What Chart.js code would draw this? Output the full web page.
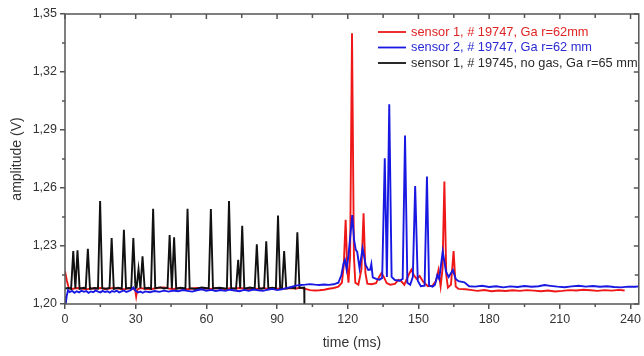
<!DOCTYPE html>
<html>
<head>
<meta charset="utf-8">
<script src="https://cdn.jsdelivr.net/npm/chart.js@4.4.1/dist/chart.umd.min.js"></script>
<style>
  html, body { margin: 0; padding: 0; background: #fff; }
  #wrap { width: 644px; height: 356px; position: relative; }
</style>
</head>
<body>
<div id="wrap"><canvas id="c"></canvas></div>
<script>
// sensor 1, # 19747 (red)
const redT = [0, 0.8, 1.6, 3, 5, 7, 9, 11, 13, 15, 17, 19, 21, 23, 25, 27, 29, 29.8, 30.2, 30.7, 32, 34, 36, 38, 40, 42, 44, 46, 48, 50, 52, 54, 56, 58, 60, 62, 64, 66, 68, 70, 72, 74, 76, 78, 80, 82, 84, 86, 88, 90, 92, 94, 96, 98, 100,
  102, 104, 106, 108, 110, 112, 114, 116, 117.5, 118.3, 119.1, 119.8, 120.3, 121.0, 121.8, 122.6, 123.2, 124.5, 125.8, 126.7, 127.5, 128.3,
  130, 132, 133.3, 134.3, 135.3, 136.5, 138, 140, 141.5, 142.5, 144, 145.8, 147, 148, 149.2, 150.5, 152, 154, 156, 157.5, 158.5, 159.4,
  160.2, 161.0, 161.8, 162.5, 163.8, 164.9, 165.8, 167, 170, 172, 175, 178, 181, 184, 187, 190, 193, 196, 199, 202, 205, 208, 211, 214,
  217, 220, 223, 226, 229, 232, 235, 237.5];
const redV = [1.2170, 1.2120, 1.2082, 1.2078, 1.2083, 1.2080, 1.2076, 1.2081, 1.2079, 1.2083, 1.2078, 1.2080, 1.2084, 1.2079, 1.2076, 1.2081, 1.2079, 1.2070, 1.2038, 1.2075, 1.2082, 1.2079, 1.2076, 1.2080, 1.2084, 1.2086, 1.2080, 1.2078, 1.2082, 1.2079, 1.2076, 1.2080, 1.2083, 1.2079, 1.2081, 1.2078, 1.2083, 1.2080, 1.2077, 1.2082, 1.2079, 1.2083, 1.2080, 1.2076, 1.2081, 1.2078, 1.2082, 1.2079, 1.2083, 1.2080, 1.2078, 1.2081, 1.2083, 1.2080, 1.2084,
  1.2078, 1.2072, 1.2070, 1.2071, 1.2074, 1.2079, 1.2083, 1.2090, 1.2110, 1.2200, 1.2435, 1.2180, 1.2110, 1.2250, 1.3400, 1.2250, 1.2110, 1.2100, 1.2180, 1.2469, 1.2160, 1.2105,
  1.2102, 1.2108, 1.2140, 1.2160, 1.2140, 1.2108, 1.2100, 1.2104, 1.2125, 1.2120, 1.2100, 1.2150, 1.2178, 1.2150, 1.2130, 1.2145, 1.2115, 1.2092, 1.2095, 1.2120, 1.2176, 1.2092,
  1.2180, 1.2633, 1.2150, 1.2085, 1.2100, 1.2274, 1.2090, 1.2078, 1.2076, 1.2073, 1.2068, 1.2072, 1.2066, 1.2070, 1.2067, 1.2071, 1.2068, 1.2072, 1.2069, 1.2066, 1.2070, 1.2065, 1.2068, 1.2072,
  1.2070, 1.2074, 1.2071, 1.2068, 1.2072, 1.2069, 1.2073, 1.2070];

// sensor 2, # 19747 (blue)
const blueT = [0, 0.3, 0.7, 1.3, 2, 3, 4, 5, 6, 7, 8, 9, 10, 11, 12, 13, 14, 15, 16, 17, 18, 19, 20, 21, 22, 23, 24, 25, 26, 27, 28, 29, 30, 31, 32, 33, 34,
  36, 38, 40, 42, 44, 46, 48, 50, 52, 54, 56, 58, 60, 62, 64, 66, 68, 70, 72, 74, 76, 78, 80, 82, 84, 86, 88, 90, 92, 94, 96, 98, 100, 102, 104, 106, 108, 110, 112, 114,
  116, 117.3, 118.2, 118.8, 119.5, 120.3, 121.9, 122.7, 123.4, 124.0, 125.0, 126.3, 127.6, 128.7, 129.5, 130.0, 130.6, 132, 133.5, 134.6, 135.7, 136.6, 137.6, 138.6,
  140, 142, 143.3, 144.3, 145.3, 146.5, 147.6, 148.6, 149.7, 151, 152.6, 153.6, 154.5, 156, 157, 158, 158.8, 160.3, 161.7, 162.8, 164.6, 165.8, 167, 168, 169.5, 171.5,
  174, 177, 180, 183, 186, 189, 192, 195, 198, 201, 203.5, 206, 209, 212, 215, 218, 221, 224, 227, 230, 233, 236, 239, 242, 243.5];
const blueV = [1.2040, 1.2000, 1.2040, 1.2072, 1.2062, 1.2068, 1.2058, 1.2066, 1.2060, 1.2069, 1.2063, 1.2067, 1.2058, 1.2065, 1.2061, 1.2070, 1.2064, 1.2060, 1.2068, 1.2062, 1.2066, 1.2059, 1.2067, 1.2063, 1.2069, 1.2060, 1.2065, 1.2070, 1.2062, 1.2066, 1.2072, 1.2085, 1.2068, 1.2060, 1.2064, 1.2058, 1.2065,
  1.2061, 1.2067, 1.2063, 1.2069, 1.2064, 1.2070, 1.2066, 1.2072, 1.2068, 1.2064, 1.2071, 1.2076, 1.2069, 1.2073, 1.2067, 1.2072, 1.2068, 1.2074, 1.2070, 1.2066, 1.2073, 1.2069, 1.2075, 1.2071, 1.2068, 1.2074, 1.2078, 1.2072, 1.2076, 1.2082, 1.2088, 1.2095, 1.2098, 1.2100, 1.2103, 1.2100, 1.2098, 1.2101, 1.2099, 1.2102,
  1.2110, 1.2150, 1.2210, 1.2228, 1.2180, 1.2250, 1.2460, 1.2330, 1.2280, 1.2270, 1.2185, 1.2288, 1.2202, 1.2176, 1.2178, 1.2207, 1.2138, 1.2130, 1.2126, 1.2135, 1.2754, 1.2140, 1.3033, 1.2140,
  1.2124, 1.2120, 1.2130, 1.2871, 1.2110, 1.2100, 1.2140, 1.2610, 1.2120, 1.2092, 1.2095, 1.2659, 1.2095, 1.2090, 1.2100, 1.2150, 1.2130, 1.2271, 1.2167, 1.2140, 1.2176, 1.2130, 1.2118, 1.2116, 1.2112, 1.2092,
  1.2090, 1.2094, 1.2088, 1.2092, 1.2086, 1.2091, 1.2088, 1.2093, 1.2089, 1.2092, 1.2098, 1.2094, 1.2090, 1.2087, 1.2091, 1.2094, 1.2090, 1.2093, 1.2089, 1.2092, 1.2088, 1.2086, 1.2090, 1.2089, 1.2091];

// sensor 1, # 19745, no gas (black)
const blackT = [0, 1.5, 2.6, 3.5, 4.4, 5.3, 6.2, 8.0, 8.8, 9.7, 10.6, 12.5, 14.0, 14.9, 15.8, 17.5, 18.9, 19.8, 20.7, 22.5, 24.1, 25.0, 25.9, 27.2, 28.1, 29.0, 29.9, 30.4,
  31.2, 32.0, 32.9, 33.8, 35.5, 36.5, 37.4, 38.3, 40.5, 42.0, 43.5, 44.4, 45.35, 46.3, 47.2, 49.0, 51.1, 52.0, 52.9, 55.5, 58.0, 61.0, 61.9, 62.8, 65.5, 68.7, 69.6, 70.5,
  72.6, 73.5, 74.35, 75.2, 76.1, 78.5, 80.5, 81.4, 82.3, 83.5, 84.5, 85.4, 86.3, 88.0, 89.5, 90.4, 91.3, 92.1, 93.0, 93.9, 96.0, 97.7, 98.6, 99.5, 101.5, 101.6];
const blackV = [1.2080, 1.2083, 1.2078, 1.2274, 1.2080, 1.2278, 1.2079, 1.2084, 1.2081, 1.2286, 1.2078, 1.2083, 1.2080, 1.2533, 1.2082, 1.2079, 1.2083, 1.2341, 1.2078, 1.2084, 1.2080, 1.2384, 1.2081, 1.2083, 1.2079, 1.2341, 1.2082, 1.2086,
  1.2180, 1.2082, 1.2247, 1.2080, 1.2084, 1.2079, 1.2493, 1.2082, 1.2086, 1.2080, 1.2083, 1.2357, 1.2081, 1.2345, 1.2079, 1.2084, 1.2080, 1.2493, 1.2082, 1.2078, 1.2085, 1.2081, 1.2491, 1.2080, 1.2084, 1.2079, 1.2533, 1.2082,
  1.2080, 1.2228, 1.2081, 1.2405, 1.2079, 1.2085, 1.2080, 1.2309, 1.2082, 1.2079, 1.2083, 1.2324, 1.2080, 1.2084, 1.2081, 1.2457, 1.2079, 1.2082, 1.2274, 1.2080, 1.2085, 1.2081, 1.2371, 1.2083, 1.2085, 1.1995];

const seriesNames = ['sensor 1, # 19747, Ga r=62mm', 'sensor 2, # 19747, Ga r=62 mm', 'sensor 1, # 19745, no gas, Ga r=65 mm'];
const lineColors = ['#ee1818', '#1818e2', '#111111'];
const textColors = ['#e02424', '#2a2ad4', '#2a2a2a'];

const xTickValues = [0, 30, 60, 90, 120, 150, 180, 210, 240];
const xMinorValues = [15, 45, 75, 105, 135, 165, 195, 225];
const yTickValues = [1.20, 1.23, 1.26, 1.29, 1.32, 1.35];
const yMinorValues = [1.215, 1.245, 1.275, 1.305, 1.335];

const axisColor = '#555';
const font = "'Liberation Sans', Arial, sans-serif";

const pts = (T, V) => T.map((t, i) => ({ x: t, y: V[i] }));

// frame, mirrored inner ticks and the legend
const frame = {
  id: 'frame',
  afterDraw(chart) {
    const { ctx, chartArea: a, scales: { x, y } } = chart;
    ctx.save();
    ctx.strokeStyle = axisColor;
    ctx.lineWidth = 1.5;
    ctx.strokeRect(a.left, a.top, a.right - a.left, a.bottom - a.top);
    ctx.beginPath();
    xTickValues.forEach(v => {
      const px = x.getPixelForValue(v);
      ctx.moveTo(px, a.top); ctx.lineTo(px, a.top + 5);
    });
    xMinorValues.forEach(v => {
      const px = x.getPixelForValue(v);
      ctx.moveTo(px, a.bottom); ctx.lineTo(px, a.bottom + 3);
      ctx.moveTo(px, a.top); ctx.lineTo(px, a.top + 4);
    });
    yTickValues.forEach(v => {
      const py = y.getPixelForValue(v);
      ctx.moveTo(a.right, py); ctx.lineTo(a.right - 5, py);
    });
    yMinorValues.forEach(v => {
      const py = y.getPixelForValue(v);
      ctx.moveTo(a.left, py); ctx.lineTo(a.left - 3, py);
      ctx.moveTo(a.right, py); ctx.lineTo(a.right - 4, py);
    });
    ctx.stroke();

    ctx.font = '12.8px ' + font;
    ctx.textBaseline = 'middle';
    ctx.textAlign = 'left';
    chart.data.datasets.forEach((ds, i) => {
      const yy = a.top + 18 + i * 15.5;
      ctx.strokeStyle = ds.borderColor;
      ctx.lineWidth = 1.8;
      ctx.beginPath();
      ctx.moveTo(378, yy); ctx.lineTo(406, yy);
      ctx.stroke();
      ctx.fillStyle = textColors[i];
      ctx.fillText(ds.label, 411, yy);
    });
    ctx.restore();
  }
};

new Chart(document.getElementById('c'), {
  type: 'line',
  data: {
    datasets: [
      { label: seriesNames[0], data: pts(redT, redV), borderColor: lineColors[0], order: 2 },
      { label: seriesNames[1], data: pts(blueT, blueV), borderColor: lineColors[1], order: 0 },
      { label: seriesNames[2], data: pts(blackT, blackV), borderColor: lineColors[2], order: 1 },
    ],
  },
  options: {
    responsive: true,
    maintainAspectRatio: false,
    animation: false,
    layout: { padding: { top: 14, right: 2, left: 0, bottom: 0 } },
    elements: {
      line: { borderWidth: 1.9, tension: 0 },
      point: { radius: 0 },
    },
    plugins: { legend: { display: false }, tooltip: { enabled: false } },
    scales: {
      x: {
        type: 'linear',
        min: 0,
        max: 243.5,
        afterBuildTicks: s => { s.ticks = xTickValues.map(v => ({ value: v })); },
        afterFit: s => { s.height = 52; },
        ticks: { color: '#333', font: { family: font, size: 12.5 }, padding: 3, maxRotation: 0 },
        grid: { drawOnChartArea: false, drawTicks: true, tickLength: 5, color: axisColor, lineWidth: 1.5 },
        border: { display: false },
        title: { display: true, text: 'time (ms)', color: '#333', font: { family: font, size: 14 }, padding: { top: 0, bottom: 4 } },
      },
      y: {
        min: 1.20,
        max: 1.35,
        afterBuildTicks: s => { s.ticks = yTickValues.map(v => ({ value: v })); },
        afterFit: s => { s.width = 65; },
        ticks: { color: '#333', font: { family: font, size: 12.5 }, padding: 3, callback: v => v.toFixed(2).replace('.', ',') },
        grid: { drawOnChartArea: false, drawTicks: true, tickLength: 5, color: axisColor, lineWidth: 1.5 },
        border: { display: false },
        title: { display: true, text: 'amplitude (V)', color: '#333', font: { family: font, size: 14 }, padding: { top: 9, bottom: 0 } },
      },
    },
  },
  plugins: [frame],
});
</script>
</body>
</html>
